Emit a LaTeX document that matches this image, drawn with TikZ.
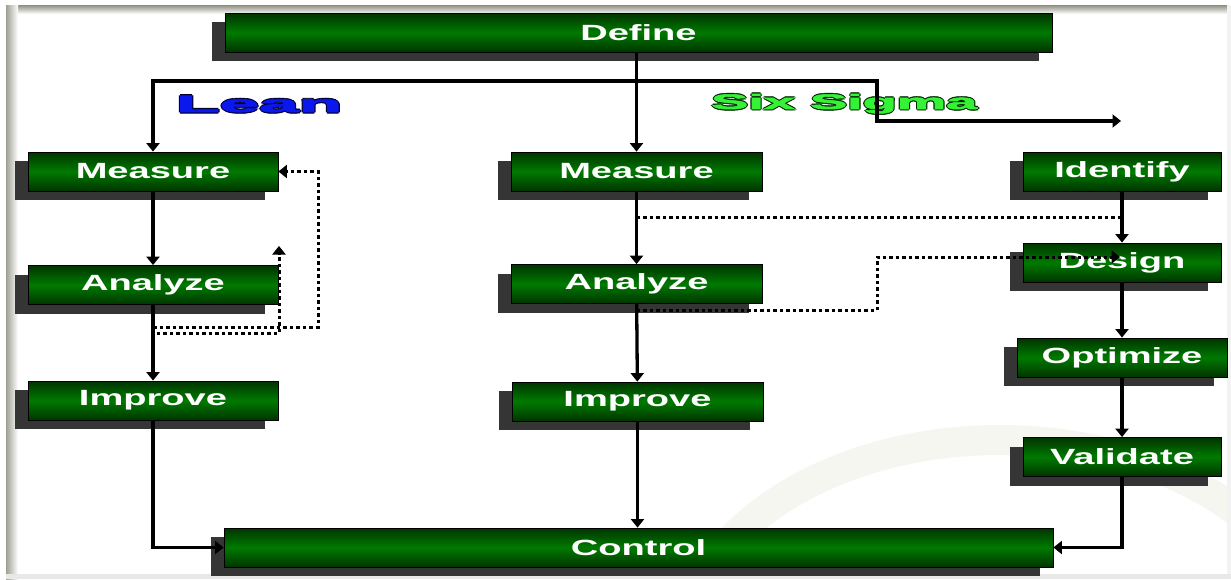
\documentclass[tikz,border=0pt]{standalone}
\usepackage{fontspec}
\setmainfont{Liberation Sans}
\newfontfamily\boxfont{Liberation Sans}[FakeStretch=1.73]
\newfontfamily\headfont{Liberation Sans}[FakeBold=2.5]
\usetikzlibrary{shadows,arrows.meta}

\definecolor{boxdark}{HTML}{003400}
\definecolor{boxmid}{HTML}{007A00}
\definecolor{shadowgray}{HTML}{353535}
\definecolor{leanblue}{HTML}{0A18EE}
\definecolor{sigmagreen}{HTML}{36F236}
\definecolor{wmark}{HTML}{F6F6F0}
\definecolor{framegray}{HTML}{8E8E80}

% text with a thin outline drawn round it
\newcommand\outlined[3]{%
  \leavevmode
  \rlap{\hspace*{-1.2pt}\textcolor{#2}{#3}}%
  \rlap{\hspace*{1.2pt}\textcolor{#2}{#3}}%
  \rlap{\raisebox{1.2pt}{\textcolor{#2}{#3}}}%
  \rlap{\raisebox{-1.2pt}{\textcolor{#2}{#3}}}%
  \textcolor{#1}{#3}}

\tikzset{
  stage/.style={draw=black, line width=0.8pt,
    top color=boxdark, bottom color=boxdark, middle color=boxmid,
    minimum height=39pt, inner sep=0pt, text=white,
    font=\boxfont\bfseries\fontsize{22}{22}\selectfont,
    general shadow={fill=shadowgray, shadow xshift=-13pt, shadow yshift=-9pt}},
  flow/.style={line width=3.3pt, -{Triangle[length=8.5pt,width=13pt]}},
  loopline/.style={line width=3pt, dash pattern=on 3.5pt off 3pt},
  looparrow/.style={loopline, -{Triangle[length=8.5pt,width=13pt]}},
  heading/.style={anchor=base west, inner sep=0pt}
}

\begin{document}
\begin{tikzpicture}[x=1pt,y=-1pt]
\useasboundingbox (0,0) rectangle (1231,579);
\fill[white] (0,0) rectangle (1231,579);

% faint watermark ring
\begin{scope}
  \clip (6,5) rectangle (1227,574);
  \draw[wmark, line width=30pt] (1000,655) ellipse [x radius=318, y radius=215];
\end{scope}

% slide frame
\shade[top color=framegray, bottom color=white] (6,5) rectangle (1231,14);
\shade[left color=framegray!85, right color=white] (6,5) rectangle (18,579);
\fill[black!9] (6,574) rectangle (1231,579);
\fill[black!5] (1227,5) rectangle (1231,574);

% stages
\node[stage, minimum width=827pt] (define)  at (638.5,32.5) {Define};
\node[stage, minimum width=829pt] (control) at (638.5,547.5) {Control};

\node[stage, minimum width=250pt] (measL) at (153,171.5) {Measure};
\node[stage, minimum width=250pt] (anaL)  at (153,285) {Analyze};
\node[stage, minimum width=250pt] (impL)  at (153,400.5) {Improve};

\node[stage, minimum width=251pt] (measM) at (636.5,171.5) {Measure};
\node[stage, minimum width=251pt] (anaM)  at (636.5,284) {Analyze};
\node[stage, minimum width=251pt] (impM)  at (637.5,401.5) {Improve};

\node[stage, minimum width=198pt] (ident)  at (1122,171.5) {Identify};
\node[stage, minimum width=198pt] (design) at (1122,262.5) {Design};
\node[stage, minimum width=210pt] (optim)  at (1122,357.5) {Optimize};
\node[stage, minimum width=198pt] (valid)  at (1122,457) {Validate};

% headings
\node[heading] (lean) at (176,112)
  {\outlined{leanblue}{black!80!blue}{\scalebox{3.0}[1]{\headfont\fontsize{23.7}{24}\selectfont\bfseries Lean}}};
\node[heading] (sixsigma) at (711,109)
  {\outlined{sigmagreen}{black!85!green}{\scalebox{2.65}[1]{\headfont\fontsize{21}{21}\selectfont\bfseries Six Sigma}}};

% branch points and free ends
\coordinate (split)   at (636.5,81);
\coordinate (sixturn) at (877,121);
\coordinate (sixend)  at (1121,121);

% main flows
\draw[flow] (define.south -| measM.north) -- (measM.north);
\draw[flow] (split) -| (measL.north);
\draw[flow] (split) -| (sixturn) -- (sixend);

\draw[flow] (measL) -- (anaL);
\draw[flow] (anaL) -- (impL);
\draw[flow] (impL.south) |- (control.west);

\draw[flow] (measM) -- (anaM);
\draw[flow] (anaM) -- (impM);
\draw[flow] (impM.south) -- (impM.south |- control.north);

\draw[flow] (ident) -- (design);
\draw[flow] (design) -- (optim);
\draw[flow] (optim) -- (valid);
\draw[flow] (valid.south) |- (control.east);

% Lean feedback loops
\coordinate (lfa)  at (153,327);
\coordinate (lfb)  at (318,327);
\coordinate (lfc)  at (153,375);
\coordinate (lfd)  at (153,333);
\coordinate (lfe)  at (279,333);
\coordinate (lfend) at (279,246);
\draw[looparrow] (lfa) -- (lfb) |- (measL.east);
\draw[looparrow] (lfc) -- (lfd) -- (lfe) -- (lfend);

% Six Sigma feedback loops
\coordinate (sfa)  at (636.5,217);
\coordinate (sfb)  at (1122,238);
\coordinate (sfc)  at (636.5,310);
\coordinate (sfd)  at (877,257);
\coordinate (sfend) at (1120,257);
\draw[loopline] (sfa) -| (sfb);
\draw[looparrow] (sfc) -| (sfd) -- (sfend);

\end{tikzpicture}
\end{document}
